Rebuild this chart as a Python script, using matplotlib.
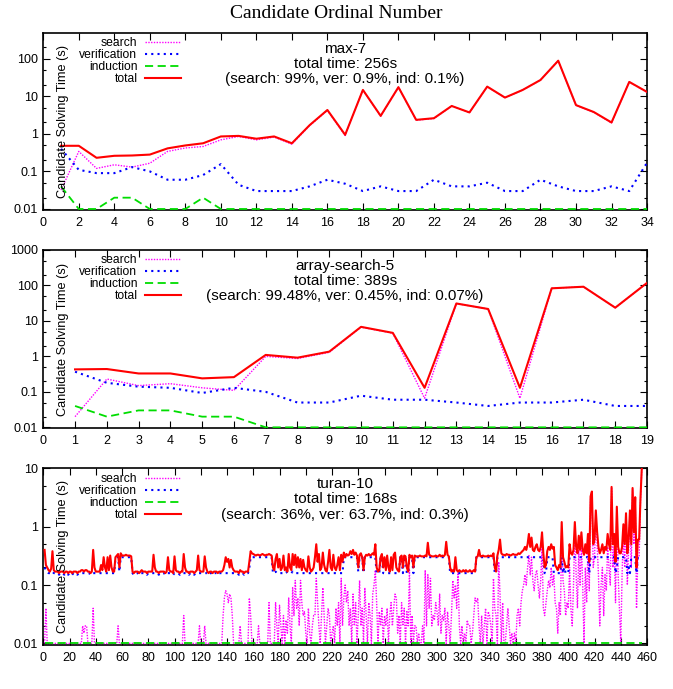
import matplotlib
matplotlib.use('Agg')
import matplotlib.pyplot as plt
from matplotlib.ticker import LogLocator, MultipleLocator, FuncFormatter, NullFormatter

plt.rcParams['font.family'] = 'Liberation Sans'

# max-7 (candidates 1..34)
max7_search = [0.032, 0.34, 0.12, 0.15, 0.13, 0.165, 0.34, 0.42, 0.46, 0.69, 0.85, 0.69, 0.82, 0.53, 1.65, 4.2, 0.9,
               14.6, 2.95, 17.3, 2.3, 2.55, 5.45, 3.65, 17.9, 9.15, 14.6, 26.9, 87.9, 5.75, 3.75, 1.95, 23.9, 12.8]
max7_ver = [0.4, 0.11, 0.09, 0.09, 0.13, 0.1, 0.06, 0.06, 0.08, 0.156, 0.044, 0.03, 0.03, 0.03, 0.04, 0.06, 0.047,
            0.03, 0.04, 0.03, 0.03, 0.06, 0.04, 0.04, 0.05, 0.03, 0.03, 0.06, 0.04, 0.03, 0.03, 0.04, 0.03, 0.17]
max7_ind = [0.04, 0.01, 0.01, 0.02, 0.02, 0.01, 0.01, 0.01, 0.02, 0.01, 0.01, 0.01, 0.01, 0.01, 0.01, 0.01, 0.01,
            0.01, 0.01, 0.01, 0.01, 0.01, 0.01, 0.01, 0.01, 0.01, 0.01, 0.01, 0.01, 0.01, 0.01, 0.01, 0.01, 0.01]
max7_total = [0.48, 0.48, 0.23, 0.26, 0.265, 0.28, 0.41, 0.49, 0.56, 0.85, 0.88, 0.74, 0.85, 0.56, 1.7, 4.3, 0.94,
              14.7, 3.0, 17.4, 2.35, 2.6, 5.5, 3.7, 18, 9.2, 14.7, 27, 88, 5.8, 3.8, 2.0, 24, 13]

# array-search-5 (candidates 1..19)
arr_search = [0.02, 0.23, 0.15, 0.17, 0.13, 0.11, 1.0, 0.87, 1.3, 6.7, 4.5, 0.066, 30.9, 21.6, 0.066, 82.9, 91.9, 23.5, 117.9]
arr_ver = [0.37, 0.18, 0.14, 0.13, 0.093, 0.13, 0.1, 0.05, 0.05, 0.078, 0.06, 0.06, 0.05, 0.04, 0.05, 0.05, 0.06, 0.04, 0.04]
arr_ind = [0.04, 0.02, 0.03, 0.03, 0.02, 0.02, 0.01, 0.01, 0.01, 0.01, 0.01, 0.01, 0.01, 0.01, 0.01, 0.01, 0.01, 0.01, 0.01]
arr_total = [0.43, 0.44, 0.33, 0.33, 0.24, 0.26, 1.1, 0.92, 1.36, 6.8, 4.6, 0.13, 31, 21.7, 0.13, 83, 92, 23.6, 118]

# turan-10 (candidates 1..456)
turan_total = [
    0.40, 0.22, 0.20, 0.18, 0.17, 0.19, 0.38, 0.18, 0.17, 0.17, 0.17, 0.16, 0.17, 0.17, 0.17, 0.16, 0.17, 0.17, 0.16, 0.17,
    0.17, 0.16, 0.17, 0.17, 0.17, 0.16, 0.17, 0.17, 0.18, 0.18, 0.17, 0.18, 0.18, 0.17, 0.17, 0.16, 0.17, 0.40, 0.20, 0.17,
    0.17, 0.17, 0.17, 0.22, 0.18, 0.30, 0.20, 0.17, 0.30, 0.18, 0.32, 0.20, 0.17, 0.17, 0.30, 0.32, 0.34, 0.20, 0.35, 0.32,
    0.32, 0.32, 0.33, 0.32, 0.32, 0.32, 0.31, 0.17, 0.16, 0.17, 0.17, 0.17, 0.16, 0.17, 0.18, 0.17, 0.17, 0.17, 0.16, 0.17,
    0.17, 0.17, 0.17, 0.33, 0.20, 0.17, 0.17, 0.16, 0.17, 0.17, 0.17, 0.17, 0.16, 0.17, 0.30, 0.18, 0.17, 0.17, 0.16, 0.31,
    0.18, 0.17, 0.17, 0.16, 0.17, 0.17, 0.34, 0.20, 0.17, 0.17, 0.16, 0.17, 0.17, 0.17, 0.16, 0.17, 0.18, 0.32, 0.18, 0.17,
    0.17, 0.17, 0.31, 0.20, 0.17, 0.16, 0.17, 0.17, 0.16, 0.17, 0.17, 0.17, 0.16, 0.17, 0.17, 0.17, 0.18, 0.22, 0.30, 0.25,
    0.28, 0.20, 0.27, 0.20, 0.18, 0.17, 0.17, 0.17, 0.16, 0.18, 0.17, 0.17, 0.16, 0.17, 0.17, 0.17, 0.25, 0.38, 0.35, 0.34,
    0.33, 0.32, 0.33, 0.33, 0.32, 0.33, 0.34, 0.33, 0.32, 0.33, 0.33, 0.34, 0.33, 0.32, 0.20, 0.18, 0.28, 0.34, 0.20, 0.28,
    0.18, 0.20, 0.32, 0.18, 0.20, 0.17, 0.34, 0.20, 0.18, 0.34, 0.22, 0.33, 0.20, 0.30, 0.20, 0.28, 0.18, 0.27, 0.20, 0.18,
    0.17, 0.31, 0.20, 0.17, 0.18, 0.20, 0.30, 0.50, 0.25, 0.34, 0.18, 0.20, 0.36, 0.22, 0.18, 0.17, 0.25, 0.40, 0.20, 0.18,
    0.33, 0.20, 0.18, 0.22, 0.30, 0.18, 0.33, 0.25, 0.36, 0.30, 0.34, 0.32, 0.33, 0.38, 0.34, 0.40, 0.33, 0.36, 0.32, 0.20,
    0.33, 0.35, 0.30, 0.18, 0.30, 0.33, 0.32, 0.34, 0.32, 0.33, 0.35, 0.33, 0.50, 0.20, 0.17, 0.18, 0.30, 0.34, 0.20, 0.30,
    0.18, 0.32, 0.20, 0.17, 0.30, 0.18, 0.33, 0.36, 0.20, 0.18, 0.17, 0.30, 0.32, 0.20, 0.32, 0.31, 0.20, 0.17, 0.33, 0.30,
    0.32, 0.20, 0.32, 0.31, 0.31, 0.31, 0.32, 0.31, 0.31, 0.31, 0.32, 0.31, 0.53, 0.33, 0.32, 0.31, 0.31, 0.31, 0.32, 0.31,
    0.31, 0.33, 0.31, 0.32, 0.31, 0.33, 0.55, 0.33, 0.31, 0.20, 0.17, 0.18, 0.17, 0.30, 0.18, 0.17, 0.18, 0.17, 0.17, 0.18,
    0.17, 0.18, 0.17, 0.17, 0.18, 0.17, 0.17, 0.18, 0.17, 0.30, 0.31, 0.40, 0.31, 0.31, 0.32, 0.31, 0.31, 0.31, 0.32, 0.31,
    0.32, 0.31, 0.35, 0.20, 0.17, 0.32, 0.40, 0.60, 0.35, 0.33, 0.33, 0.32, 0.34, 0.33, 0.33, 0.32, 0.33, 0.34, 0.33, 0.33,
    0.33, 0.35, 0.34, 0.36, 0.38, 0.40, 0.45, 0.40, 0.50, 0.75, 0.45, 0.65, 0.40, 0.38, 0.45, 0.50, 0.40, 0.38, 0.45, 0.80,
    0.35, 0.20, 0.22, 0.38, 0.45, 0.40, 0.50, 0.42, 0.45, 0.22, 0.20, 0.18, 0.22, 0.20, 1.20, 0.30, 0.25, 0.20, 0.21, 0.20,
    0.50, 0.35, 0.33, 0.40, 1.20, 0.45, 0.35, 0.70, 0.40, 0.80, 0.40, 0.33, 0.50, 0.35, 0.75, 0.25, 3.30, 4.00, 0.50, 0.60,
    1.90, 0.80, 0.45, 0.35, 0.40, 0.50, 0.35, 0.45, 0.40, 0.75, 0.50, 0.40, 4.80, 0.50, 0.75, 0.25, 2.20, 0.45, 0.35, 0.35,
    0.45, 1.10, 0.50, 1.70, 0.35, 0.60, 1.90, 0.50, 4.60, 0.80, 3.20, 0.20, 0.60, 0.60, 3.00, 10.0]
turan_ver = [
    0.20, 0.18, 0.17, 0.16, 0.16, 0.16, 0.17, 0.16, 0.16, 0.16, 0.16, 0.15, 0.16, 0.16, 0.16, 0.15, 0.16, 0.16, 0.15, 0.16,
    0.16, 0.15, 0.16, 0.16, 0.16, 0.15, 0.16, 0.16, 0.16, 0.16, 0.16, 0.16, 0.16, 0.16, 0.16, 0.15, 0.16, 0.16, 0.16, 0.16,
    0.16, 0.16, 0.16, 0.16, 0.16, 0.16, 0.16, 0.16, 0.16, 0.16, 0.16, 0.16, 0.16, 0.16, 0.29, 0.30, 0.30, 0.17, 0.30, 0.30,
    0.30, 0.30, 0.30, 0.30, 0.30, 0.30, 0.30, 0.16, 0.15, 0.16, 0.16, 0.16, 0.15, 0.16, 0.16, 0.16, 0.16, 0.16, 0.15, 0.16,
    0.16, 0.16, 0.16, 0.16, 0.16, 0.16, 0.16, 0.15, 0.16, 0.16, 0.16, 0.16, 0.15, 0.16, 0.16, 0.16, 0.16, 0.16, 0.15, 0.16,
    0.16, 0.16, 0.16, 0.15, 0.16, 0.16, 0.16, 0.16, 0.16, 0.16, 0.15, 0.16, 0.16, 0.16, 0.15, 0.16, 0.16, 0.16, 0.16, 0.16,
    0.16, 0.16, 0.16, 0.16, 0.16, 0.15, 0.16, 0.16, 0.15, 0.16, 0.16, 0.16, 0.15, 0.16, 0.16, 0.16, 0.16, 0.16, 0.16, 0.16,
    0.16, 0.16, 0.16, 0.16, 0.16, 0.16, 0.16, 0.16, 0.15, 0.16, 0.16, 0.16, 0.15, 0.16, 0.16, 0.16, 0.20, 0.30, 0.30, 0.30,
    0.30, 0.30, 0.30, 0.30, 0.30, 0.30, 0.30, 0.30, 0.30, 0.30, 0.30, 0.30, 0.30, 0.30, 0.16, 0.16, 0.17, 0.16, 0.16, 0.16,
    0.16, 0.16, 0.16, 0.16, 0.17, 0.16, 0.16, 0.16, 0.16, 0.17, 0.16, 0.16, 0.16, 0.16, 0.16, 0.16, 0.16, 0.16, 0.16, 0.16,
    0.16, 0.16, 0.16, 0.16, 0.16, 0.16, 0.16, 0.16, 0.16, 0.16, 0.16, 0.16, 0.16, 0.16, 0.16, 0.16, 0.16, 0.16, 0.16, 0.16,
    0.16, 0.16, 0.16, 0.16, 0.16, 0.16, 0.16, 0.16, 0.30, 0.30, 0.30, 0.30, 0.30, 0.30, 0.30, 0.30, 0.30, 0.30, 0.30, 0.17,
    0.30, 0.30, 0.30, 0.16, 0.30, 0.30, 0.30, 0.30, 0.30, 0.30, 0.30, 0.30, 0.30, 0.16, 0.16, 0.16, 0.30, 0.30, 0.16, 0.16,
    0.16, 0.16, 0.16, 0.16, 0.16, 0.16, 0.16, 0.16, 0.16, 0.16, 0.16, 0.30, 0.30, 0.16, 0.30, 0.30, 0.16, 0.16, 0.30, 0.30,
    0.30, 0.16, 0.30, 0.30, 0.30, 0.30, 0.30, 0.30, 0.30, 0.30, 0.30, 0.30, 0.30, 0.30, 0.30, 0.30, 0.30, 0.30, 0.30, 0.30,
    0.30, 0.30, 0.30, 0.30, 0.30, 0.30, 0.30, 0.30, 0.30, 0.16, 0.16, 0.16, 0.16, 0.16, 0.16, 0.16, 0.16, 0.16, 0.16, 0.16,
    0.16, 0.16, 0.16, 0.16, 0.16, 0.16, 0.16, 0.16, 0.16, 0.30, 0.30, 0.30, 0.30, 0.30, 0.30, 0.30, 0.30, 0.30, 0.30, 0.30,
    0.30, 0.30, 0.30, 0.16, 0.16, 0.30, 0.30, 0.30, 0.30, 0.30, 0.30, 0.30, 0.30, 0.30, 0.30, 0.30, 0.30, 0.30, 0.30, 0.30,
    0.30, 0.30, 0.30, 0.30, 0.30, 0.30, 0.30, 0.30, 0.30, 0.30, 0.30, 0.30, 0.30, 0.30, 0.30, 0.30, 0.30, 0.30, 0.30, 0.30,
    0.30, 0.16, 0.16, 0.30, 0.30, 0.30, 0.30, 0.30, 0.16, 0.16, 0.16, 0.16, 0.16, 0.16, 0.30, 0.16, 0.20, 0.16, 0.16, 0.16,
    0.30, 0.30, 0.30, 0.30, 0.30, 0.30, 0.30, 0.30, 0.30, 0.30, 0.30, 0.30, 0.30, 0.30, 0.30, 0.16, 0.30, 0.30, 0.30, 0.30,
    0.30, 0.30, 0.30, 0.30, 0.30, 0.30, 0.30, 0.30, 0.30, 0.30, 0.30, 0.30, 0.30, 0.30, 0.30, 0.16, 0.20, 0.30, 0.30, 0.30,
    0.30, 0.30, 0.30, 0.30, 0.16, 0.20, 0.16, 0.30, 0.30, 0.30, 0.30, 0.16, 0.30, 0.30, 0.30, 0.30]
turan_search = [
    0.01, 0.04, 0.01, 0.01, 0.01, 0.01, 0.01, 0.01, 0.01, 0.01, 0.01, 0.01, 0.01, 0.01, 0.01, 0.01, 0.01, 0.01, 0.01, 0.01,
    0.01, 0.01, 0.01, 0.01, 0.01, 0.01, 0.01, 0.01, 0.01, 0.02, 0.015, 0.02, 0.02, 0.01, 0.01, 0.01, 0.01, 0.04, 0.01, 0.01,
    0.01, 0.01, 0.01, 0.01, 0.01, 0.01, 0.01, 0.01, 0.01, 0.01, 0.01, 0.01, 0.01, 0.01, 0.01, 0.01, 0.02, 0.01, 0.01, 0.01,
    0.01, 0.01, 0.01, 0.01, 0.01, 0.01, 0.01, 0.01, 0.01, 0.01, 0.01, 0.01, 0.01, 0.01, 0.01, 0.01, 0.01, 0.01, 0.01, 0.01,
    0.01, 0.01, 0.01, 0.01, 0.01, 0.01, 0.01, 0.01, 0.01, 0.01, 0.01, 0.01, 0.01, 0.01, 0.01, 0.01, 0.01, 0.01, 0.01, 0.01,
    0.01, 0.01, 0.01, 0.01, 0.01, 0.01, 0.03, 0.01, 0.01, 0.01, 0.01, 0.01, 0.01, 0.01, 0.01, 0.01, 0.01, 0.01, 0.02, 0.01,
    0.01, 0.01, 0.02, 0.01, 0.01, 0.01, 0.01, 0.01, 0.01, 0.01, 0.01, 0.01, 0.01, 0.01, 0.01, 0.01, 0.03, 0.06, 0.08, 0.07,
    0.05, 0.07, 0.06, 0.03, 0.01, 0.01, 0.01, 0.01, 0.01, 0.02, 0.01, 0.01, 0.01, 0.01, 0.01, 0.01, 0.06, 0.03, 0.01, 0.01,
    0.01, 0.01, 0.01, 0.02, 0.01, 0.01, 0.01, 0.01, 0.01, 0.01, 0.01, 0.05, 0.01, 0.01, 0.01, 0.01, 0.05, 0.02, 0.01, 0.045,
    0.02, 0.01, 0.03, 0.01, 0.025, 0.015, 0.06, 0.02, 0.01, 0.09, 0.03, 0.12, 0.04, 0.06, 0.02, 0.12, 0.05, 0.03, 0.035, 0.015,
    0.01, 0.04, 0.015, 0.01, 0.02, 0.03, 0.03, 0.13, 0.05, 0.02, 0.01, 0.03, 0.09, 0.03, 0.01, 0.02, 0.04, 0.03, 0.01, 0.015,
    0.02, 0.01, 0.04, 0.02, 0.05, 0.01, 0.13, 0.02, 0.06, 0.10, 0.05, 0.08, 0.02, 0.04, 0.01, 0.07, 0.02, 0.05, 0.01, 0.03,
    0.12, 0.02, 0.04, 0.01, 0.09, 0.03, 0.01, 0.05, 0.03, 0.01, 0.07, 0.10, 0.18, 0.05, 0.01, 0.035, 0.02, 0.04, 0.01, 0.03,
    0.02, 0.04, 0.01, 0.03, 0.05, 0.02, 0.04, 0.07, 0.06, 0.015, 0.03, 0.01, 0.05, 0.02, 0.04, 0.01, 0.035, 0.02, 0.18, 0.01,
    0.03, 0.01, 0.02, 0.02, 0.01, 0.015, 0.01, 0.01, 0.02, 0.01, 0.18, 0.02, 0.15, 0.04, 0.13, 0.02, 0.03, 0.025, 0.05, 0.035,
    0.02, 0.07, 0.015, 0.03, 0.025, 0.04, 0.01, 0.035, 0.02, 0.01, 0.03, 0.12, 0.06, 0.10, 0.04, 0.18, 0.02, 0.01, 0.02, 0.01,
    0.015, 0.01, 0.025, 0.02, 0.02, 0.01, 0.015, 0.03, 0.06, 0.05, 0.06, 0.02, 0.01, 0.03, 0.01, 0.02, 0.04, 0.01, 0.035, 0.03,
    0.02, 0.01, 0.13, 0.04, 0.03, 0.01, 0.25, 0.07, 0.01, 0.05, 0.01, 0.01, 0.02, 0.04, 0.02, 0.01, 0.015, 0.01, 0.015, 0.01,
    0.03, 0.04, 0.02, 0.05, 0.08, 0.10, 0.15, 0.10, 0.20, 0.32, 0.15, 0.30, 0.12, 0.08, 0.15, 0.18, 0.10, 0.06, 0.12, 0.45,
    0.04, 0.03, 0.05, 0.08, 0.12, 0.09, 0.20, 0.10, 0.15, 0.05, 0.04, 0.015, 0.05, 0.03, 0.90, 0.12, 0.08, 0.03, 0.05, 0.04,
    0.20, 0.04, 0.02, 0.10, 0.90, 0.15, 0.04, 0.40, 0.10, 0.50, 0.10, 0.01, 0.20, 0.05, 0.45, 0.08, 3.00, 3.70, 0.20, 0.30,
    1.60, 0.50, 0.15, 0.02, 0.10, 0.20, 0.03, 0.15, 0.08, 0.45, 0.20, 0.10, 4.50, 0.20, 0.45, 0.05, 2.00, 0.15, 0.04, 0.01,
    0.15, 0.80, 0.20, 1.40, 0.10, 0.40, 1.70, 0.20, 4.30, 0.50, 2.90, 0.04, 0.30, 0.30, 2.70, 9.70]
# induction stays at the bottom of the axis for every candidate
turan_ind = [0.01] * len(turan_total)

names = ['max-7', 'array-search-5', 'turan-10']
summaries = ['total time: 256s\n(search: 99%, ver: 0.9%, ind: 0.1%)',
             'total time: 389s\n(search: 99.48%, ver: 0.45%, ind: 0.07%)',
             'total time: 168s\n(search: 36%, ver: 63.7%, ind: 0.3%)']

data = [(max7_search, max7_ver, max7_ind, max7_total),
        (arr_search, arr_ver, arr_ind, arr_total),
        (turan_search, turan_ver, turan_ind, turan_total)]
xmax = [34, 19, 460]
xstep = [2, 1, 20]
ymax = [480, 1000, 10]
boxes = [(0.0643, 0.6952, 0.8971, 0.2569),
         (0.0643, 0.3784, 0.8971, 0.2588),
         (0.0643, 0.0639, 0.8971, 0.2564)]

fig = plt.figure(figsize=(6.73, 6.89), dpi=100)
fig.text(0.5, 1 - 14 / 689, 'Candidate Ordinal Number', ha='center', va='center',
         fontsize=14, family='Liberation Serif')

for k in range(3):
    ax = fig.add_axes(boxes[k])
    s, v, ind, tot = data[k]
    x = list(range(1, len(tot) + 1))
    ax.plot(x, s, color='#ff00ff', lw=1.0, dashes=(1, 1), label='search', zorder=3)
    ax.plot(x, v, color='#0000ff', lw=1.5, dashes=(1, 2), label='verification', zorder=3)
    ax.plot(x, ind, color='#00dd00', lw=1.3, dashes=(4.5, 2.5), label='induction', zorder=3)
    ax.plot(x, tot, color='#ff0000', lw=1.5, label='total', zorder=3)
    ax.set_yscale('log')
    ax.set_ylim(0.0094, ymax[k])
    ax.set_xlim(0, xmax[k])
    ax.xaxis.set_major_locator(MultipleLocator(xstep[k]))
    ax.yaxis.set_major_locator(LogLocator(base=10))
    ax.yaxis.set_minor_locator(LogLocator(base=10, subs=(2, 5)))
    ax.yaxis.set_minor_formatter(NullFormatter())
    ax.yaxis.set_major_formatter(FuncFormatter(lambda val, pos: '%g' % val))
    ax.tick_params(which='both', direction='in', top=True, right=True, labelsize=9, width=0.8)
    ax.tick_params(which='major', length=5)
    ax.tick_params(which='minor', length=2.5)
    ax.tick_params(axis='x', pad=5)
    ax.tick_params(axis='y', pad=4)
    for sp in ax.spines.values():
        sp.set_linewidth(1.2)
    ax.text(0.032, 0.5, 'Candidate Solving Time (s)', rotation=90, transform=ax.transAxes,
            ha='center', va='center', fontsize=9.2, zorder=4)
    ax.text(0.5, 0.825, names[k] + '\n' + summaries[k], transform=ax.transAxes,
            ha='center', va='center', fontsize=11, linespacing=1.12)
    ax.legend(loc='upper right', bbox_to_anchor=(0.228, 0.975), markerfirst=False, frameon=False,
              fontsize=8.7, handlelength=3.0, handletextpad=0.6, labelspacing=0.0,
              borderpad=0, borderaxespad=0)

fig.savefig('out.png', dpi=100)
